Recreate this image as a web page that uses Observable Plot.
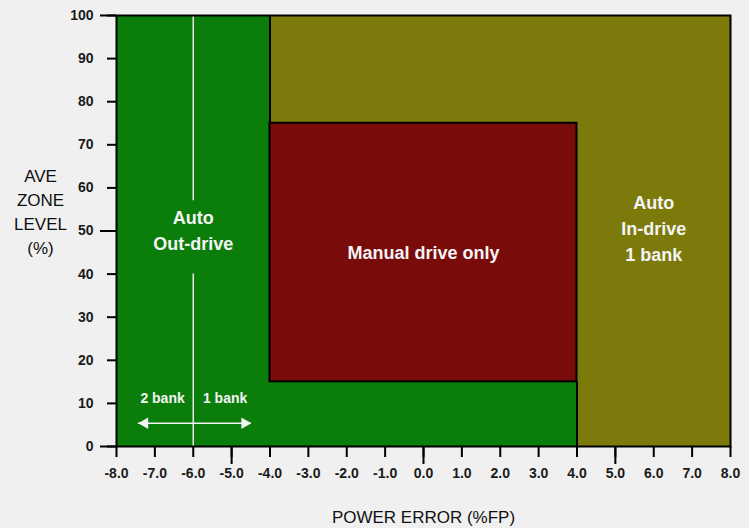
<!DOCTYPE html>
<html>
<head>
<meta charset="utf-8">
<script src="https://cdn.jsdelivr.net/npm/d3@7"></script>
<script src="https://cdn.jsdelivr.net/npm/@observablehq/plot@0.6"></script>
<style>
  html, body { margin: 0; padding: 0; background: #f0f0f0; }
</style>
</head>
<body>
<div id="chart"></div>
<script>
// ---- data ----
const xTicks = [-8, -7, -6, -5, -4, -3, -2, -1, 0, 1, 2, 3, 4, 5, 6, 7, 8];
const xLongTicks = [-5, 0, 5];
const yTicks = [0, 10, 20, 30, 40, 50, 60, 70, 80, 90, 100];
const yLongTicks = [0, 50, 100];

// operating regions (power error %FP × ave zone level %)
const regionKind = ["in-drive", "out-drive", "out-drive", "manual"];
const regionX1 = [-8, -8, -8, -4];
const regionX2 = [8, -4, 4, 4];
const regionY1 = [0, 0, 0, 15];
const regionY2 = [100, 100, 15, 75];

// region boundaries (black)
const boundaryX = [-4, 4];
const boundaryY1 = [75, 0];
const boundaryY2 = [100, 15];

// 2 bank / 1 bank divider at -6 %FP
const dividerX = [-6, -6];
const dividerY1 = [57, 0];
const dividerY2 = [100, 40];

// bank arrow
const arrowY = 5.4;
const arrowLeft = -7.43;
const arrowRight = -4.49;
const bankLabels = ["2 bank", "1 bank"];
const bankLabelX = [-6.8, -5.17];
const bankLabelY = [11.1, 11.1];

// zone labels
const zoneLabels = ["Auto\nOut-drive", "Manual drive only", "Auto\nIn-drive\n1 bank"];
const zoneLabelX = [-6, 0, 6];
const zoneLabelY = [50.5, 45.5, 51];

// ---- build ----
const colors = {"in-drive": "#7c7a0a", "out-drive": "#0b7d0b", "manual": "#7a0b0b"};
const regions = regionKind.map((k, i) => ({kind: k, x1: regionX1[i], x2: regionX2[i], y1: regionY1[i], y2: regionY2[i]}));
const boundaries = boundaryX.map((x, i) => ({x, y1: boundaryY1[i], y2: boundaryY2[i]}));
const dividers = dividerX.map((x, i) => ({x, y1: dividerY1[i], y2: dividerY2[i]}));
const bank = bankLabels.map((t, i) => ({t, x: bankLabelX[i], y: bankLabelY[i]}));
const zones = zoneLabels.map((t, i) => ({t, x: zoneLabelX[i], y: zoneLabelY[i]}));

const chart = Plot.plot({
  width: 749,
  height: 528,
  marginLeft: 116,
  marginRight: 19,
  marginTop: 15,
  marginBottom: 82,
  x: {domain: [-8, 8]},
  y: {domain: [0, 100]},
  style: {
    background: "#f0f0f0",
    fontFamily: "'Liberation Sans', Arial, sans-serif",
    fontSize: "14px",
    fontWeight: "bold",
    color: "#111"
  },
  marks: [
    Plot.rect(regions, {x1: "x1", x2: "x2", y1: "y1", y2: "y2", fill: d => colors[d.kind]}),
    Plot.rect(regions.filter(d => d.kind === "manual"), {x1: "x1", x2: "x2", y1: "y1", y2: "y2", fill: "none", stroke: "#000", strokeWidth: 2}),
    Plot.ruleX(boundaries, {x: "x", y1: "y1", y2: "y2", stroke: "#000", strokeWidth: 2}),
    Plot.ruleX(dividers, {x: "x", y1: "y1", y2: "y2", stroke: "#e6e6e6", strokeWidth: 1.5}),
    Plot.ruleY([arrowY], {x1: arrowLeft, x2: arrowRight, stroke: "#f4f4f4", strokeWidth: 1.5}),
    Plot.dot([{x: arrowLeft, y: arrowY}], {x: "x", y: "y", symbol: "triangle", r: 4.3, rotate: -90, dx: 6.5, fill: "#f4f4f4", stroke: null}),
    Plot.dot([{x: arrowRight, y: arrowY}], {x: "x", y: "y", symbol: "triangle", r: 4.3, rotate: 90, dx: -6.5, fill: "#f4f4f4", stroke: null}),
    Plot.text(bank, {x: "x", y: "y", text: "t", fill: "#f4f4f4", fontSize: 14, fontWeight: "bold"}),
    Plot.text(zones, {x: "x", y: "y", text: "t", fill: "#f4f4f4", fontSize: 18, fontWeight: "bold", lineHeight: 1.44}),
    Plot.frame({stroke: "#000", strokeWidth: 2}),
    Plot.axisX(xTicks, {tickSize: 11, tickPadding: 11, tickFormat: d => d.toFixed(1), stroke: "#000", strokeWidth: 2, fill: "#1a1a1a", fontSize: 14, fontWeight: "bold", label: null}),
    Plot.axisX(xLongTicks, {tickSize: 18, tickFormat: () => "", stroke: "#000", strokeWidth: 2, label: null}),
    Plot.axisY(yTicks, {tickSize: 9, tickPadding: 14, tickFormat: d => String(d), stroke: "#000", strokeWidth: 2, fill: "#1a1a1a", fontSize: 14, fontWeight: "bold", label: null}),
    Plot.axisY(yLongTicks, {tickSize: 16, tickFormat: () => "", stroke: "#000", strokeWidth: 2, label: null}),
    Plot.text(["POWER ERROR (%FP)"], {frameAnchor: "bottom", textAnchor: "middle", lineAnchor: "middle", dy: 71, fontSize: 17, fontWeight: "normal", fill: "#111"}),
    Plot.text(["AVE\nZONE\nLEVEL\n(%)"], {frameAnchor: "left", textAnchor: "middle", lineAnchor: "middle", dx: -76, dy: -21, fontSize: 17, fontWeight: "normal", lineHeight: 1.42, fill: "#111"})
  ]
});
document.getElementById("chart").appendChild(chart);
</script>
</body>
</html>
